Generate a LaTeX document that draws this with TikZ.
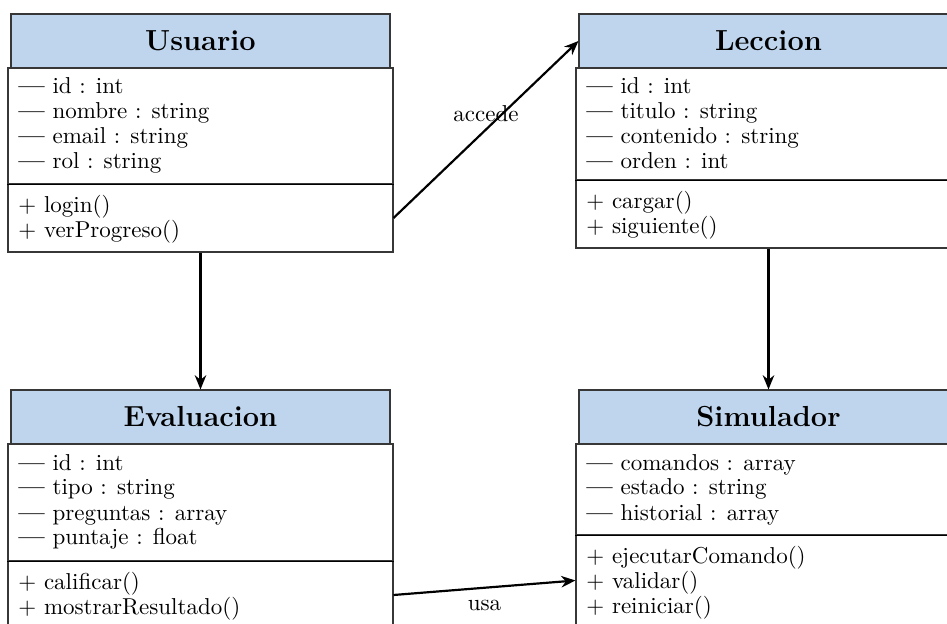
\documentclass[tikz,border=0pt]{standalone}
\usetikzlibrary{arrows.meta,fit}
\definecolor{hdrblue}{RGB}{191,213,238}
\definecolor{edgegray}{RGB}{55,55,55}
\begin{document}
\begin{tikzpicture}[x=0.4348pt,y=-0.4348pt,
  hdr/.style={draw=edgegray, line width=0.45pt, fill=hdrblue, inner sep=0pt},
  title/.style={inner sep=0pt, font=\fontsize{12.6}{15}\selectfont\bfseries},
  part/.style={draw=edgegray, line width=0.45pt, fill=white, inner sep=0pt},
  sepline/.style={line width=0.8pt, black},
  ln/.style={anchor=base west, inner sep=0pt, font=\fontsize{10}{12}\selectfont},
  arr/.style={-{Stealth[length=6.2pt,width=5pt]}, line width=0.95pt, black},
  lbl/.style={font=\fontsize{10}{12}\selectfont, inner sep=3pt}]
\useasboundingbox (0,0) rectangle (947,624);
\clip (0,0) rectangle (947,624);

% attribute marker: a bold em dash
\def\attrdash{\textbf{\textemdash}}

% ---------- Usuario ----------
\node[hdr, fit={(11,14) (390,68)}] (U) {};
\node[title] (Ut) at (U.center) {Usuario};
\node[part, fit={(8,68) (393,184)}] (Ua) {};
\node[part, fit={(8,184) (393,252)}] (Um) {};
\draw[sepline] (Ua.south west) -- (Ua.south east);
\foreach \t [count=\i] in {id : int, nombre : string, email : string, rol : string}
  \node[ln] (ua\i) at (18,{94+25*(\i-1)}) {\attrdash{} \t};
\foreach \t [count=\i] in {login(), verProgreso()}
  \node[ln] (um\i) at (18,{212.5+25*(\i-1)}) {+ \t};

% ---------- Leccion ----------
\node[hdr, fit={(579,14) (958,68)}] (L) {};
\node[title] (Lt) at (L.center) {Leccion};
\node[part, fit={(576,68) (961,180)}] (La) {};
\node[part, fit={(576,180) (961,248)}] (Lm) {};
\draw[sepline] (La.south west) -- (La.south east);
\foreach \t [count=\i] in {id : int, titulo : string, contenido : string, orden : int}
  \node[ln] (la\i) at (586,{94+25*(\i-1)}) {\attrdash{} \t};
\foreach \t [count=\i] in {cargar(), siguiente()}
  \node[ln] (lm\i) at (586,{208.5+25*(\i-1)}) {+ \t};

% ---------- Evaluacion ----------
\node[hdr, fit={(11,390) (390,444)}] (E) {};
\node[title] (Et) at (E.center) {Evaluacion};
\node[part, fit={(8,444) (393,561)}] (Ea) {};
\node[part, fit={(8,561) (393,629)}] (Em) {};
\draw[sepline] (Ea.south west) -- (Ea.south east);
\foreach \t [count=\i] in {id : int, tipo : string, preguntas : array, puntaje : float}
  \node[ln] (ea\i) at (18,{470+25*(\i-1)}) {\attrdash{} \t};
\foreach \t [count=\i] in {calificar(), mostrarResultado()}
  \node[ln] (em\i) at (18,{589.5+25*(\i-1)}) {+ \t};

% ---------- Simulador ----------
\node[hdr, fit={(579,390) (958,444)}] (S) {};
\node[title] (St) at (S.center) {Simulador};
\node[part, fit={(576,444) (961,535)}] (Sa) {};
\node[part, fit={(576,535) (961,626)}] (Sm) {};
\draw[sepline] (Sa.south west) -- (Sa.south east);
\foreach \t [count=\i] in {comandos : array, estado : string, historial : array}
  \node[ln] (sa\i) at (586,{470+25*(\i-1)}) {\attrdash{} \t};
\foreach \t [count=\i] in {ejecutarComando(), validar(), reiniciar()}
  \node[ln] (sm\i) at (586,{563.5+25*(\i-1)}) {+ \t};

% ---------- relations ----------
\draw[arr] (Um.east) -- node[lbl, above] (accede) {accede} (L.west);
\draw[arr] (Um.south) -- (E.north);
\draw[arr] (Lm.south) -- (S.north);
\draw[arr] (Em.east) -- node[lbl, below, yshift=-2pt] (usa) {usa} (Sm.west);
\end{tikzpicture}
\end{document}
